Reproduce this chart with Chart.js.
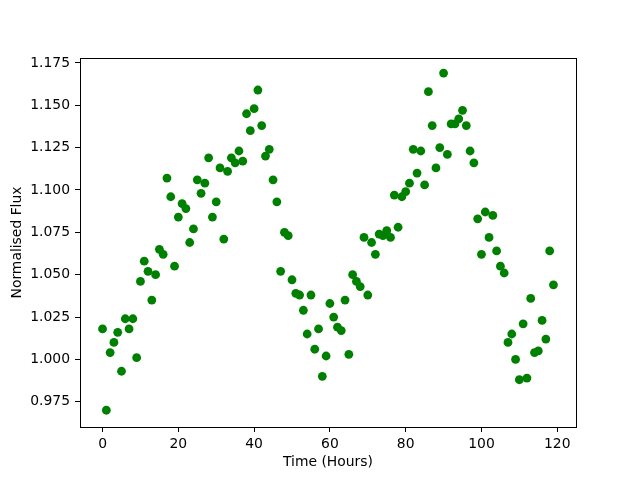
<!DOCTYPE html>
<html lang="en">
<head>
    <meta charset="UTF-8">
    <title>Normalised Flux</title>
    <script src="https://cdn.jsdelivr.net/npm/chart.js"></script>
    <style>
        body { margin: 0; background: white; }
        #fluxChart { display: block; }
    </style>
</head>
<body>
    <canvas id="fluxChart" width="640" height="480"></canvas>
    <script>
        // one reading per hour
        const hours = Array.from({length: 120}, (_, i) => i);
        const flux = [
            1.018, 0.970, 1.004, 1.010, 1.016, 0.993, 1.024, 1.018, 1.024, 1.001,
            1.046, 1.058, 1.052, 1.035, 1.050, 1.065, 1.062, 1.107, 1.096, 1.055,
            1.084, 1.092, 1.089, 1.069, 1.077, 1.106, 1.098, 1.104, 1.119, 1.084,
            1.093, 1.113, 1.071, 1.111, 1.119, 1.116, 1.123, 1.117, 1.145, 1.135,
            1.148, 1.159, 1.138, 1.120, 1.124, 1.106, 1.093, 1.052, 1.075, 1.073,
            1.047, 1.039, 1.038, 1.029, 1.015, 1.038, 1.006, 1.018, 0.990, 1.002,
            1.033, 1.025, 1.019, 1.017, 1.035, 1.003, 1.050, 1.046, 1.043, 1.072,
            1.038, 1.069, 1.062, 1.074, 1.073, 1.076, 1.072, 1.097, 1.078, 1.096,
            1.099, 1.104, 1.124, 1.110, 1.123, 1.103, 1.158, 1.138, 1.113, 1.125,
            1.169, 1.121, 1.139, 1.139, 1.142, 1.147, 1.138, 1.123, 1.116, 1.083,
            1.062, 1.087, 1.072, 1.085, 1.064, 1.055, 1.051, 1.010, 1.015, 1.000,
            0.988, 1.021, 0.989, 1.036, 1.004, 1.005, 1.023, 1.012, 1.064, 1.044
        ];
        const xTicks = [0, 20, 40, 60, 80, 100, 120];
        const yTicks = [0.975, 1.000, 1.025, 1.050, 1.075, 1.100, 1.125, 1.150, 1.175];

        const points = hours.map((h, i) => ({x: h, y: flux[i]}));

        const font = {family: 'DejaVu Sans', size: 13.9, lineHeight: 1.2};

        // matplotlib style box around the axes
        const frame = {
            id: 'axesFrame',
            afterDatasetsDraw(chart) {
                const a = chart.chartArea;
                const c = chart.ctx;
                c.save();
                c.strokeStyle = '#000';
                c.lineWidth = 1;
                c.strokeRect(Math.round(a.left) + 0.5, Math.round(a.top) + 0.5,
                    Math.round(a.right - a.left), Math.round(a.bottom - a.top));
                c.restore();
            }
        };

        new Chart(document.getElementById('fluxChart'), {
            type: 'scatter',
            data: {
                datasets: [{
                    data: points,
                    backgroundColor: '#008000',
                    borderColor: '#008000',
                    pointRadius: 4.4,
                    pointHoverRadius: 4.4,
                    borderWidth: 0
                }]
            },
            options: {
                responsive: false,
                animation: false,
                layout: {padding: {top: 58, right: 64, bottom: 0, left: 0}},
                plugins: {legend: {display: false}, tooltip: {enabled: false}},
                scales: {
                    x: {
                        type: 'linear',
                        min: -5.95,
                        max: 124.95,
                        afterBuildTicks: s => { s.ticks = xTicks.map(v => ({value: v})); },
                        afterFit: s => { s.height = 53; },
                        border: {display: false},
                        grid: {drawOnChartArea: false, drawTicks: true, tickLength: 5, color: '#000'},
                        ticks: {color: '#000', font: font, padding: 4, maxRotation: 0,
                            callback: v => String(v)},
                        title: {display: true, text: 'Time (Hours)', color: '#000', font: font,
                            padding: {top: 4, bottom: 9}}
                    },
                    y: {
                        type: 'linear',
                        min: 0.9601,
                        max: 1.1779,
                        afterBuildTicks: s => { s.ticks = yTicks.map(v => ({value: v})); },
                        afterFit: s => { s.width = 80; },
                        border: {display: false},
                        grid: {drawOnChartArea: false, drawTicks: true, tickLength: 5, color: '#000'},
                        ticks: {color: '#000', font: font, padding: 5,
                            callback: v => Number(v).toFixed(3)},
                        title: {display: true, text: 'Normalised Flux', color: '#000', font: font,
                            padding: {top: 9, bottom: 4}}
                    }
                }
            },
            plugins: [frame]
        });
    </script>
</body>
</html>
